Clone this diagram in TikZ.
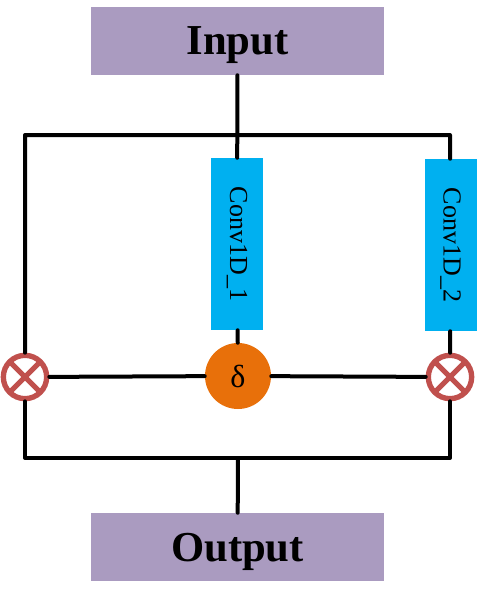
\documentclass[tikz,border=0pt]{standalone}
\usepackage{fontspec}
\setmainfont{Liberation Serif}
\definecolor{boxpurple}{RGB}{170,155,192}
\definecolor{convblue}{RGB}{0,176,240}
\definecolor{multred}{RGB}{192,80,77}
\definecolor{gateorange}{RGB}{232,112,10}
\tikzstyle{io} = [rectangle,fill=boxpurple,minimum width=219.75pt,minimum height=51pt,inner sep=0pt,text depth=0pt,font=\fontsize{32}{36}\selectfont\bfseries]
\tikzstyle{conv} = [rectangle,fill=convblue,rotate=-90,minimum width=129pt,minimum height=39pt,inner sep=0pt,font=\fontsize{19.5}{22}\selectfont]
\tikzstyle{gate} = [circle,fill=gateorange,minimum size=49.5pt,inner sep=0pt,font=\fontsize{24}{26}\selectfont]
\tikzstyle{mult} = [circle,draw=multred,line width=4pt,minimum size=32.5pt,inner sep=0pt,
  path picture={\draw[multred,line width=3.75pt] (path picture bounding box.north west) -- (path picture bounding box.south east)
    (path picture bounding box.north east) -- (path picture bounding box.south west);}]
\tikzstyle{wire} = [line width=3pt,line cap=round,line join=round]

\begin{document}
\begin{tikzpicture}[x=0.75pt,y=-0.75pt]
	\useasboundingbox (0,0) rectangle (476,592);
	\node[io] (in) at (237.5,41) {Input};
	\node[io] (out) at (237.5,547) {Output};
	\node[conv] (c1) at (237,244) {Conv1D\_1};
	\node[conv] (c2) at (450.5,245) {Conv1D\_2};
	\node[gate] (d) at (238,376) {δ};
	\node[mult] (m1) at (25,377) {};
	\node[mult] (m2) at (450,377) {};
	\coordinate (tl) at (25,135);
	\coordinate (tr) at (450,135);
	\coordinate (bl) at (25,458);
	\coordinate (br) at (450,458);
	\coordinate (bm) at (238,458);
	\draw[wire] (in) -- (c1);
	\draw[wire] (m1) -- (tl) -- (tr) -- (c2);
	\draw[wire] (c1) -- (d);
	\draw[wire] (c2) -- (m2);
	\draw[wire] (m1) -- (d) -- (m2);
	\draw[wire] (m1) -- (bl) -- (br) -- (m2);
	\draw[wire] (bm) -- (out);
\end{tikzpicture}
\end{document}
